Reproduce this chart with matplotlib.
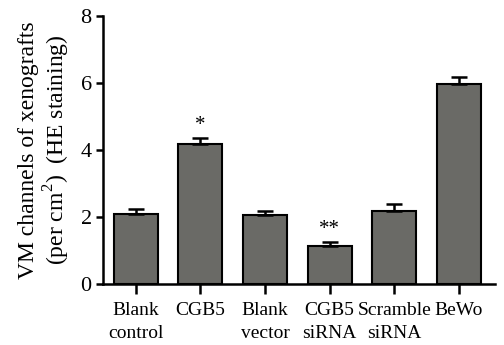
import numpy as np
import matplotlib.pyplot as plt

plt.rcParams['font.family'] = ['Liberation Serif', 'DejaVu Serif']
plt.rcParams['mathtext.fontset'] = 'custom'
plt.rcParams['mathtext.rm'] = 'Liberation Serif'

groups = ["Blank\ncontrol", "CGB5", "Blank\nvector", "CGB5\nsiRNA", "Scramble\nsiRNA", "BeWo"]
values = [2.09, 4.18, 2.06, 1.13, 2.19, 5.97]
errors = [0.15, 0.18, 0.12, 0.12, 0.19, 0.21]
marks = ["", "*", "", "**", "", ""]

fig = plt.figure(figsize=(5.04, 3.45), dpi=100)
ax = fig.add_axes([0.204, 0.177, 0.778, 0.777])

x = np.arange(len(groups))
lower = np.zeros(len(errors))
ax.bar(x, values, width=0.68, color="#6a6a66", edgecolor="black", linewidth=1.5,
       yerr=[lower, errors], error_kw=dict(ecolor="black", elinewidth=1.8, capsize=6, capthick=1.8))

for xi, v, e, m in zip(x, values, errors, marks):
    if m:
        ax.text(xi, v + e + 0.08, m, ha="center", va="bottom", fontsize=15)

ax.set_xlim(-0.51, 5.56)
ax.set_ylim(0, 8)
ax.set_yticks([0, 2, 4, 6, 8])
ax.set_xticks(x)
ax.set_xticklabels(groups, fontsize=14, linespacing=1.45)
ax.tick_params(axis="y", labelsize=16, width=1.8, length=5, direction="out", pad=3)
ax.tick_params(axis="x", width=1.8, length=7, direction="out", pad=6)
for s in ["top", "right"]:
    ax.spines[s].set_visible(False)
for s in ["left", "bottom"]:
    ax.spines[s].set_linewidth(1.8)

ax.set_ylabel("VM channels of xenografts\n(per cm$^2$)  (HE staining)", fontsize=17, linespacing=1.15, labelpad=6)

fig.savefig("out.png", dpi=100)
